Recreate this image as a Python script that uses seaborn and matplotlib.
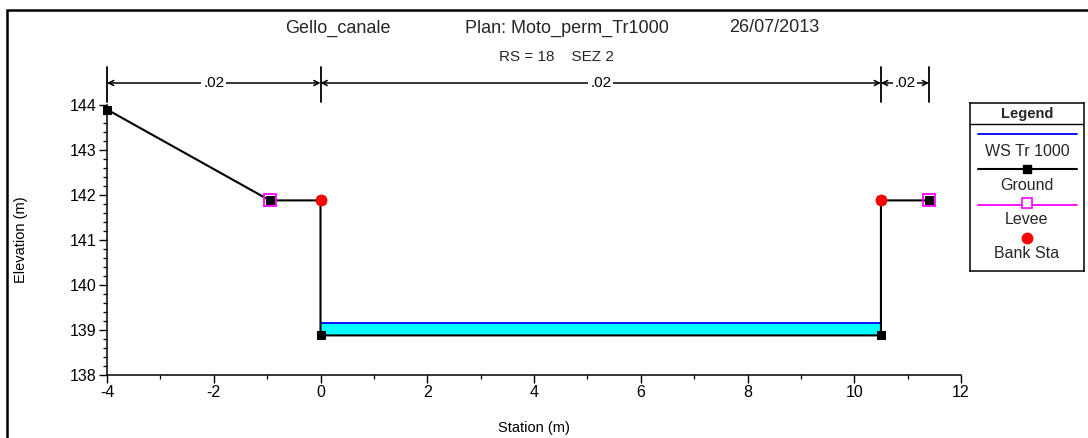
import matplotlib
matplotlib.use("Agg")
import matplotlib.pyplot as plt
import matplotlib.patches as mpatches
import seaborn as sns
import pandas as pd

# ---- data ----
ground_x = [-4.0, -0.95, 0.0, 0.0, 10.5, 10.5, 11.4]
ground_y = [143.9, 141.88, 141.88, 138.88, 138.88, 141.88, 141.88]
levee_x = [-0.95, 11.4]
levee_y = [141.88, 141.88]
bank_x = [0.0, 10.5]
bank_y = [141.88, 141.88]
ws_x = [0.0, 10.5]
ws_y = [139.15, 139.15]
bed_y = [138.88, 138.88]
mann_x = [-4.0, 0.0, 10.5, 11.4]
mann_n = [".02", ".02", ".02"]
legend_labels = ["WS Tr 1000", "Ground", "Levee", "Bank Sta"]

sns.set_theme(style="ticks")
plt.rcParams["font.family"] = ["Liberation Sans", "DejaVu Sans"]
plt.rcParams["axes.unicode_minus"] = False
NARROW = ["Liberation Sans Narrow", "Liberation Sans", "DejaVu Sans"]

W, H = 1088, 438
fig = plt.figure(figsize=(W / 100, H / 100), dpi=100)
fig.patch.set_facecolor("white")

def fx(px):
    return px / W

def fy(py):
    return 1 - py / H

ax = fig.add_axes([fx(107), fy(375), fx(961) - fx(107), fy(105) - fy(375)])
ax.set_facecolor("white")

# water
ax.fill_between(ws_x, bed_y, ws_y, color="#00ffff", lw=0, zorder=1)
sns.lineplot(x=ws_x, y=ws_y, ax=ax, color="#0000ff", lw=1.3, zorder=2)

# ground
gdf = pd.DataFrame({"x": ground_x, "y": ground_y})
sns.lineplot(data=gdf, x="x", y="y", sort=False, estimator=None, ax=ax,
             color="black", lw=1.5, zorder=3, marker="s", markersize=6,
             markeredgecolor="black", clip_on=False)
# levee
ax.plot(levee_x, levee_y, ls="none", marker="s", markersize=8.5,
        markerfacecolor="none", markeredgecolor="#ff00ff", markeredgewidth=1.3,
        zorder=4, clip_on=False)
# bank stations
ax.plot(bank_x, bank_y, ls="none", marker="o", markersize=7.5,
        color="#ff0000", zorder=5, clip_on=False)

ax.set_xlim(-4, 12)
ax.set_ylim(138, 144)
ax.set_xticks(range(-4, 13, 2))
ax.set_xticks(range(-4, 13, 1), minor=True)
ax.set_yticks(range(138, 145))
ax.set_yticks([138 + 0.2 * i for i in range(31)], minor=True)
ax.tick_params(axis="both", which="major", direction="out", length=5.5, width=1,
               labelsize=11.5, color="black", labelcolor="black", pad=2)
ax.tick_params(axis="both", which="minor", direction="out", length=3, width=0.9,
               color="black")
for s in ["top", "right"]:
    ax.spines[s].set_visible(False)
for s in ["left", "bottom"]:
    ax.spines[s].set_color("black")
    ax.spines[s].set_linewidth(1.1)
ax.set_xlabel("Station (m)", fontsize=10.5, color="black", labelpad=15)
ax.set_ylabel("Elevation (m)", fontsize=10.5, color="black", labelpad=30)
ax.grid(False)

# manning's n dimension lines
tr = ax.get_xaxis_transform()
ydim = (375 - 83) / 270
for x in mann_x:
    ax.plot([x, x], [(375 - 102) / 270, (375 - 67) / 270], transform=tr,
            color="black", lw=1.3, clip_on=False, zorder=6)
for i, n in enumerate(mann_n):
    x0, x1 = mann_x[i], mann_x[i + 1]
    ax.annotate("", xy=(x1, ydim), xytext=(x0, ydim), xycoords=tr, textcoords=tr,
                arrowprops=dict(arrowstyle="<->", lw=1.1, color="black",
                                shrinkA=0, shrinkB=0, mutation_scale=9),
                annotation_clip=False)
    ax.text((x0 + x1) / 2, ydim, n, transform=tr, ha="center", va="center",
            fontsize=11, family=NARROW, color="black",
            bbox=dict(boxstyle="square,pad=0.12", fc="white", ec="none"),
            zorder=7, clip_on=False)

# titles
fig.text(fx(338), fy(28), "Gello_canale", ha="center", va="center",
         fontsize=13, family=NARROW)
fig.text(fx(567), fy(28), "Plan: Moto_perm_Tr1000", ha="center", va="center",
         fontsize=13, family=NARROW)
fig.text(fx(774), fy(28), "26/07/2013", ha="center", va="center",
         fontsize=13, family=NARROW)
fig.text(fx(556), fy(57), "RS = 18    SEZ 2", ha="center", va="center",
         fontsize=11, family=NARROW)

# figure frame
fig.add_artist(mpatches.Rectangle((fx(7), -0.1), 1.2, fy(10) + 0.1,
                                  transform=fig.transFigure, fill=False,
                                  ec="black", lw=1.8))

# legend (custom layout: sample above label)
lg = fig.add_axes([fx(970), fy(271), fx(1084) - fx(970), fy(103) - fy(271)])
lg.set_xlim(0, 114)
lg.set_ylim(168, 0)
lg.set_xticks([])
lg.set_yticks([])
for s in lg.spines.values():
    s.set_color("black")
    s.set_linewidth(1.1)
lg.axhline(21, color="black", lw=1)
lg.text(57, 11, "Legend", ha="center", va="center", fontsize=10.5,
        fontweight="bold")
lg.plot([8, 107], [31, 31], color="#0000ff", lw=1.3)
lg.text(57, 48, legend_labels[0], ha="center", va="center", fontsize=11.5)
lg.plot([8, 107], [66, 66], color="black", lw=1.5)
lg.plot([57], [66], marker="s", markersize=6, color="black")
lg.text(57, 82, legend_labels[1], ha="center", va="center", fontsize=11.5)
lg.plot([8, 107], [102, 102], color="#ff00ff", lw=1.3)
lg.plot([57], [100], marker="s", markersize=7, markerfacecolor="white",
        markeredgecolor="#ff00ff", markeredgewidth=1.2)
lg.text(57, 117, legend_labels[2], ha="center", va="center", fontsize=11.5)
lg.plot([57], [135], marker="o", markersize=7.5, color="#ff0000")
lg.text(57, 151, legend_labels[3], ha="center", va="center", fontsize=11.5)

fig.savefig("out.png", dpi=100, facecolor="white")
